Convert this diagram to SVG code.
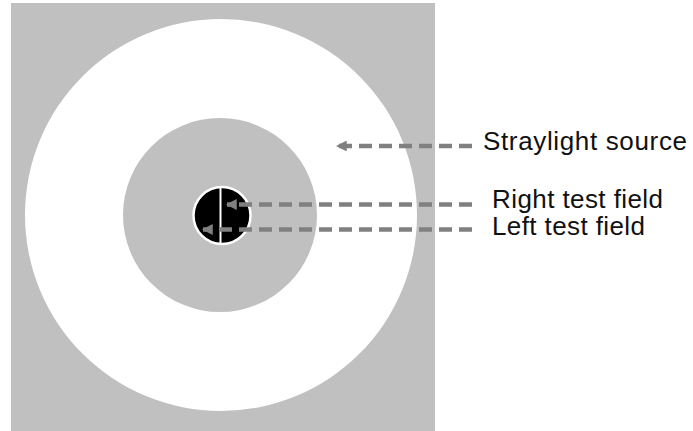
<svg xmlns="http://www.w3.org/2000/svg" width="693" height="431" viewBox="0 0 693 431">
  <style>
    .lbl { font-family: "Liberation Sans", Arial, sans-serif; font-size: 26px; fill: #111; }
    .dash { stroke: #808080; stroke-width: 4.5; stroke-dasharray: 13 7; fill: none; }
  </style>
  <defs>
    <!-- arrowhead drawn along +x so it follows the line direction -->
    <marker id="head" viewBox="0 0 10 10" refX="9" refY="5" markerWidth="2.4" markerHeight="2.4" orient="auto" markerUnits="strokeWidth">
      <path d="M10,5 L0,0 L0,10 Z" fill="#808080"/>
    </marker>
  </defs>
  <rect width="693" height="431" fill="#fff"/>

  <g id="stimulus">
    <rect x="11" y="3" width="424" height="428" fill="#c0c0c0"/>
    <circle id="straylight-ring" cx="221" cy="215" r="196" fill="#fff"/>
    <circle id="surround" cx="220" cy="215" r="97" fill="#c0c0c0"/>
    <circle id="test-field" cx="222" cy="215.5" r="28.5" fill="#000" stroke="#fff" stroke-width="2.5"/>
    <line x1="220.5" y1="187" x2="220.5" y2="244" stroke="#fff" stroke-width="2"/>
  </g>

  <g id="connectors">
    <line class="dash" x1="472" y1="146" x2="337" y2="146" marker-end="url(#head)"/>
    <line class="dash" x1="472" y1="204.5" x2="227" y2="204.5" marker-end="url(#head)"/>
    <line class="dash" x1="472" y1="229.5" x2="203" y2="229.5" marker-end="url(#head)"/>
  </g>

  <g id="label-straylight"><text class="lbl" x="483" y="150" textLength="204" lengthAdjust="spacing">Straylight source</text></g>
  <g id="label-right"><text class="lbl" x="492" y="208" textLength="171" lengthAdjust="spacing">Right test field</text></g>
  <g id="label-left"><text class="lbl" x="492" y="235" textLength="153" lengthAdjust="spacing">Left test field</text></g>
</svg>
